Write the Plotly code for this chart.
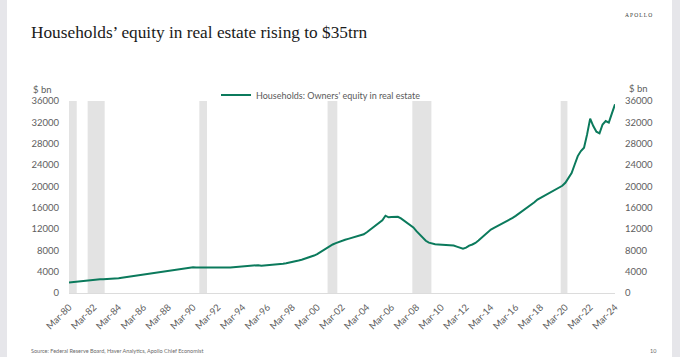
import pandas as pd
import plotly.graph_objects as go

# ---------------- data ----------------
series_name = "Households: Owners' equity in real estate"

# quarterly dates, Mar-80 .. Mar-24
dates = pd.date_range("1980-03-01", "2024-03-01", freq="3MS")

# owners' equity in real estate, $ bn, one row per year
equity_bn = [
    1990, 2060, 2120, 2170,      # 1980
    2230, 2300, 2370, 2440,      # 1981
    2500, 2530, 2560, 2580,      # 1982
    2600, 2610, 2630, 2680,      # 1983
    2760, 2850, 2940, 3030,      # 1984
    3120, 3210, 3300, 3390,      # 1985
    3480, 3570, 3660, 3740,      # 1986
    3830, 3910, 3990, 4070,      # 1987
    4150, 4240, 4330, 4420,      # 1988
    4510, 4610, 4720, 4800,      # 1989
    4810, 4800, 4790, 4780,      # 1990
    4760, 4740, 4720, 4700,      # 1991
    4700, 4720, 4740, 4760,      # 1992
    4800, 4850, 4900, 4950,      # 1993
    5000, 5060, 5120, 5180,      # 1994
    5260, 5220, 5130, 5160,      # 1995
    5200, 5250, 5300, 5340,      # 1996
    5400, 5480, 5580, 5680,      # 1997
    5800, 5950, 6100, 6250,      # 1998
    6420, 6620, 6820, 7020,      # 1999
    7300, 7650, 8050, 8500,      # 2000
    8850, 9100, 9350, 9600,      # 2001
    9800, 9980, 10150, 10300,    # 2002
    10450, 10600, 10800, 11000,  # 2003
    11400, 11850, 12300, 12750,  # 2004
    13200, 13650, 14500, 14200,  # 2005
    14250, 14300, 14280, 14000,  # 2006
    13600, 13200, 12830, 12300,  # 2007
    11600, 10950, 10300, 9800,   # 2008
    9450, 9260, 9150, 9100,      # 2009
    9080, 9070, 9075, 9050,      # 2010
    8900, 8700, 8550, 8320,      # 2011
    8500, 8890, 9100, 9390,      # 2012
    9850, 10350, 10850, 11300,   # 2013
    11890, 12200, 12500, 12800,  # 2014
    13100, 13400, 13750, 14090,  # 2015
    14450, 14850, 15250, 15650,  # 2016
    16050, 16500, 17000, 17530,  # 2017
    17850, 18150, 18450, 18750,  # 2018
    19050, 19350, 19730, 20100,  # 2019
    20660, 21600, 22500, 24100,  # 2020
    25670, 26610, 27240, 29740,  # 2021
    32690, 31300, 30250, 29930,  # 2022
    31600, 32250, 31940, 33690,  # 2023
    35380,                       # 2024
]

# recession shading (start, end)
recession_start = ["1980-03-01", "1981-09-01", "1990-09-01", "2001-01-01", "2007-11-01", "2019-10-15"]
recession_end   = ["1980-10-15", "1983-01-15", "1991-04-15", "2001-10-15", "2009-05-15", "2020-05-01"]

# x-axis ticks
tick_dates = [f"{y}-03-01" for y in range(1980, 2025, 2)]
tick_labels = ["Mar-80", "Mar-82", "Mar-84", "Mar-86", "Mar-88", "Mar-90", "Mar-92", "Mar-94",
               "Mar-96", "Mar-98", "Mar-00", "Mar-02", "Mar-04", "Mar-06", "Mar-08", "Mar-10",
               "Mar-12", "Mar-14", "Mar-16", "Mar-18", "Mar-20", "Mar-22", "Mar-24"]

title_text = "Households\u2019 equity in real estate rising to $35trn"
source_text = "Source: Federal Reserve Board, Haver Analytics, Apollo Chief Economist"

# ---------------- layout geometry ----------------
W_FIG, H_FIG = 680, 357
L, R, T, B = 69, 615, 101, 293
PW, PH = R - L, B - T


def px(x):
    return (x - L) / PW


def py(y):
    return (B - y) / PH


AXIS_FONT = dict(family="Lato, 'Open Sans', sans-serif", size=9.5, color="#5e5e5e")
LINE_COLOR = "#0b7a5c"

fig = go.Figure()
fig.add_trace(go.Scatter(
    x=dates, y=equity_bn, mode="lines", name=series_name,
    line=dict(color=LINE_COLOR, width=2),
))
# same series on the right axis (invisible) so the right axis is drawn
fig.add_trace(go.Scatter(
    x=dates, y=equity_bn, mode="lines", yaxis="y2", showlegend=False,
    line=dict(color="rgba(0,0,0,0)", width=0), hoverinfo="skip",
))

shapes = []
for s, e in zip(recession_start, recession_end):
    shapes.append(dict(type="rect", xref="x", yref="y", x0=s, x1=e, y0=0, y1=36000,
                       fillcolor="#e3e3e3", line=dict(width=0), layer="below"))
# slide side borders
shapes.append(dict(type="rect", xref="paper", yref="paper", x0=px(0), x1=px(7), y0=py(357), y1=py(0),
                   fillcolor="#e6e6ea", line=dict(width=0), layer="above"))
shapes.append(dict(type="rect", xref="paper", yref="paper", x0=px(672), x1=px(680), y0=py(357), y1=py(0),
                   fillcolor="#e6e6ea", line=dict(width=0), layer="above"))

annotations = [
    dict(text=title_text, xref="paper", yref="paper", x=px(29), y=py(33), xanchor="left", yanchor="middle",
         showarrow=False, font=dict(family="'Liberation Serif', 'DejaVu Serif', serif", size=17.3, color="#1a1a1a")),
    dict(text="A\u2009P\u2009O\u2009L\u2009L\u2009O", xref="paper", yref="paper", x=px(638), y=py(14.5),
         xanchor="center", yanchor="middle", showarrow=False,
         font=dict(family="'Liberation Serif', serif", size=5.5, color="#333333")),
    dict(text="$ bn", xref="paper", yref="paper", x=px(54), y=py(90), xanchor="right", yanchor="middle",
         showarrow=False, font=AXIS_FONT),
    dict(text="$ bn", xref="paper", yref="paper", x=px(627), y=py(88), xanchor="left", yanchor="middle",
         showarrow=False, font=AXIS_FONT),
    dict(text=source_text, xref="paper", yref="paper", x=px(29), y=py(351), xanchor="left", yanchor="middle",
         showarrow=False, font=dict(family="Lato, sans-serif", size=5.5, color="#6a6a6a")),
    dict(text="10", xref="paper", yref="paper", x=px(653), y=py(351), xanchor="center", yanchor="middle",
         showarrow=False, font=dict(family="Lato, sans-serif", size=5.5, color="#6a6a6a")),
]

fig.update_layout(
    width=W_FIG, height=H_FIG, autosize=False,
    margin=dict(l=L, r=W_FIG - R, t=T, b=H_FIG - B, pad=0, autoexpand=False),
    paper_bgcolor="white", plot_bgcolor="white",
    showlegend=True,
    legend=dict(orientation="h", xref="container", yref="container",
                x=216 / W_FIG, y=1 - 95 / H_FIG, xanchor="left", yanchor="middle",
                font=dict(family="Lato, 'Open Sans', sans-serif", size=9, color="#5a5a5a"),
                bgcolor="rgba(0,0,0,0)", itemwidth=30, tracegroupgap=0),
    xaxis=dict(type="date", range=["1980-03-01", "2024-03-01"], tickvals=tick_dates, ticktext=tick_labels,
               tickangle=-45, showgrid=False, zeroline=False, showline=True, linecolor="#dcdcdc", linewidth=1,
               ticks="", tickfont=AXIS_FONT, ticklabelstandoff=4, automargin=False),
    yaxis=dict(range=[0, 36000], dtick=4000, tick0=0, tickformat="d", showgrid=False, zeroline=False,
               showline=False, ticks="", tickfont=AXIS_FONT, ticklabelstandoff=9, automargin=False),
    yaxis2=dict(range=[0, 36000], dtick=4000, tick0=0, tickformat="d", overlaying="y", side="right",
                showgrid=False, zeroline=False, showline=False, ticks="", tickfont=AXIS_FONT,
                ticklabelstandoff=9, automargin=False),
    shapes=shapes,
    annotations=annotations,
)

fig.write_html("out.html", config={"displayModeBar": False},
               post_script="document.body.style.margin='0';document.body.style.overflow='hidden';")
